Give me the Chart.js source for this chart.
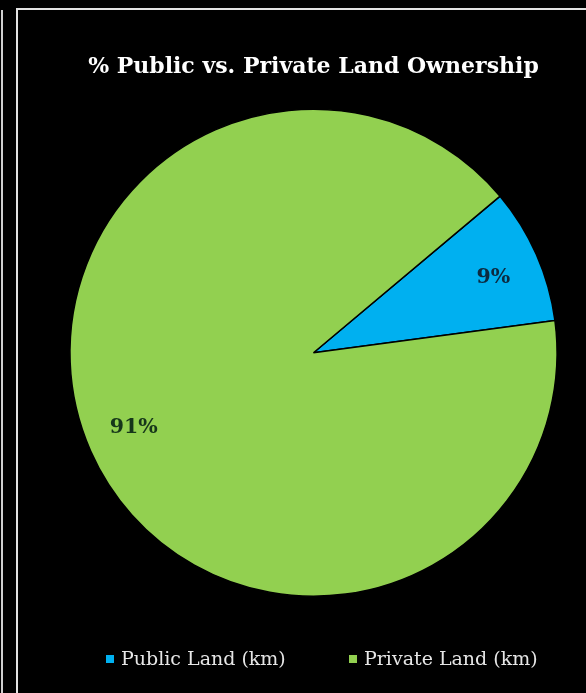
<!DOCTYPE html>
<html lang="en">
<head>
  <meta charset="UTF-8">
  <title>% Public vs. Private Land Ownership</title>
  <script src="https://cdn.jsdelivr.net/npm/chart.js"></script>
  <style>
    html, body { margin: 0; padding: 0; background: #000; }
    body { width: 586px; height: 693px; position: relative; overflow: hidden; }
    /* thin light rules framing the chart panel */
    .rule-outer { position: absolute; left: 1px; top: 10px; bottom: 0; width: 2px; background: #cfcfcf; }
    .rule-left { position: absolute; left: 16px; top: 8px; bottom: 0; width: 2px; background: #e2e2e2; }
    .rule-top { position: absolute; left: 16px; top: 8px; right: 0; height: 2px; background: #e2e2e2; }
    #wrap { position: absolute; left: 18px; top: 10px; width: 568px; height: 683px; }
    .legend-item {
      position: absolute; top: 645px; height: 26px; line-height: 26px;
      font-family: 'DejaVu Serif', 'Liberation Serif', serif; font-size: 19px;
      color: #e6e6e6; white-space: nowrap;
    }
    .legend-item i {
      display: inline-block; width: 8px; height: 8px; margin-right: 7px;
      vertical-align: middle; position: relative; top: -1px;
    }
  </style>
</head>
<body>
  <div class="rule-outer"></div>
  <div class="rule-left"></div>
  <div class="rule-top"></div>
  <div id="wrap"><canvas id="landChart"></canvas></div>

  <script>
    const categories = ['Public Land (km)', 'Private Land (km)'];
    const shares = [9, 91];
    const sliceColors = ['#00b0f0', '#92d050'];
    const labelColors = ['#0c2a40', '#16361a'];

    const serif = "'DejaVu Serif', 'Liberation Serif', serif";
    const legendLeft = [106, 349];

    // percent labels drawn inside each slice
    const sliceLabels = {
      id: 'sliceLabels',
      afterDatasetsDraw(chart) {
        const ctx = chart.ctx;
        const arcs = chart.getDatasetMeta(0).data;
        ctx.save();
        ctx.font = 'bold 20.5px ' + serif;
        ctx.textAlign = 'center';
        ctx.textBaseline = 'middle';
        arcs.forEach((arc, i) => {
          const p = arc.getProps(['x', 'y', 'startAngle', 'endAngle', 'outerRadius'], true);
          const mid = (p.startAngle + p.endAngle) / 2 + 0.02;
          const r = p.outerRadius * 0.8;
          ctx.fillStyle = labelColors[i];
          ctx.fillText(shares[i] + '%', p.x + Math.cos(mid) * r, p.y + Math.sin(mid) * r);
        });
        ctx.restore();
      }
    };

    new Chart(document.getElementById('landChart'), {
      type: 'pie',
      data: {
        labels: categories,
        datasets: [{
          data: shares,
          backgroundColor: sliceColors,
          borderColor: '#000',
          borderWidth: 1.5
        }]
      },
      options: {
        responsive: true,
        maintainAspectRatio: false,
        animation: false,
        rotation: 50,
        layout: { padding: { left: 25, right: 2, top: 0, bottom: 96 } },
        plugins: {
          title: {
            display: true,
            text: '% Public vs. Private Land Ownership',
            color: '#ffffff',
            font: { family: serif, size: 22, weight: 'bold' },
            padding: { top: 44, bottom: 28 }
          },
          legend: { display: false },
          tooltip: { enabled: false }
        }
      },
      plugins: [sliceLabels]
    });

    // legend row under the pie, one entry per category
    categories.forEach((name, i) => {
      const item = document.createElement('div');
      item.className = 'legend-item';
      item.style.left = legendLeft[i] + 'px';
      const swatch = document.createElement('i');
      swatch.style.background = sliceColors[i];
      item.appendChild(swatch);
      item.appendChild(document.createTextNode(name));
      document.body.appendChild(item);
    });
  </script>
</body>
</html>
